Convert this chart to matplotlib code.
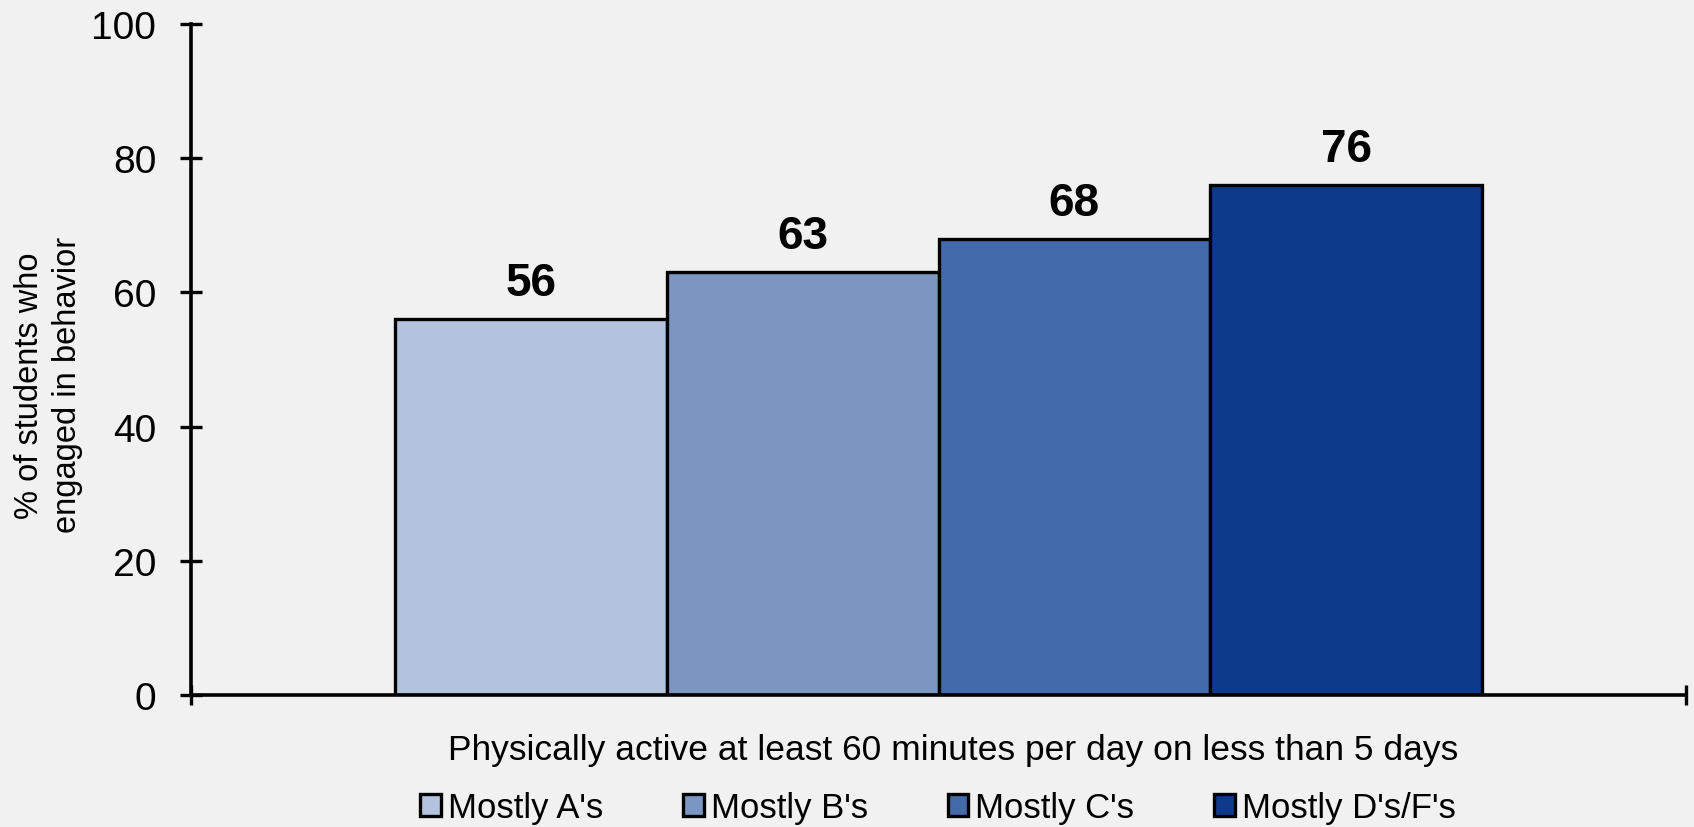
import matplotlib
from matplotlib import pyplot as plt
import numpy as np
plt.switch_backend('agg')

# data
groups = ["Mostly A's", "Mostly B's", "Mostly C's", "Mostly D's/F's"]
values = [56, 63, 68, 76]
colors = ['#b3c2dd', '#7b96c1', '#436aa9', '#0e3a8c']
category = 'Physically active at least 60 minutes per day on less than 5 days'
ylabel = '% of students who\nengaged in behavior'
yticks = [0, 20, 40, 60, 80, 100]

font = 'Liberation Sans'
bg = '#f1f1f1'

fig = plt.figure(figsize=(16.94, 8.28), dpi=100, facecolor=bg)
ax = fig.add_axes([0.1128, 0.1594, 0.8825, 0.8104], facecolor=bg)

w = 0.1817
offsets = (np.arange(len(values)) - (len(values) - 1) / 2) * w
for i in range(len(values)):
    ax.bar(offsets[i], values[i], width=w, color=colors[i], edgecolor='black',
           linewidth=2.4, label=groups[i], zorder=2)
    ax.annotate(str(values[i]), (offsets[i], values[i]), xytext=(0, 10),
                textcoords='offset points', ha='center', va='bottom',
                fontsize=33, fontweight='bold', family=font)

ax.set_xlim(-0.5, 0.5)
ax.set_ylim(0, 100)

for s in ['top', 'right']:
    ax.spines[s].set_visible(False)
for s in ['left', 'bottom']:
    ax.spines[s].set_linewidth(2.6)
    ax.spines[s].set_zorder(3)

ax.set_yticks(yticks)
ax.set_yticklabels([str(t) for t in yticks], family=font, fontsize=28)
ax.tick_params(axis='y', direction='inout', length=16, width=2.4, pad=17)

ax.set_xticks([-0.5, 0.5])
ax.set_xticklabels(['', ''])
ax.tick_params(axis='x', which='major', direction='inout', length=14, width=2.4)
ax.set_xticks([0.01], minor=True)
ax.set_xticklabels([category], minor=True, family=font, fontsize=25.5)
ax.tick_params(axis='x', which='minor', length=0, pad=27)

ax.set_ylabel(ylabel, family=font, fontsize=23.5, linespacing=1.3)
ax.yaxis.set_label_coords(-0.072, 0.463)

leg = fig.legend(loc='center', bbox_to_anchor=(0.5537, 0.023), ncol=4,
                 frameon=False, prop={'family': font, 'size': 25},
                 handlelength=0.6, handleheight=0.6, handletextpad=0.2,
                 columnspacing=2.3)
for h in leg.legend_handles:
    h.set_linewidth(2.4)

plt.savefig('out.png', dpi=100, facecolor=bg)
